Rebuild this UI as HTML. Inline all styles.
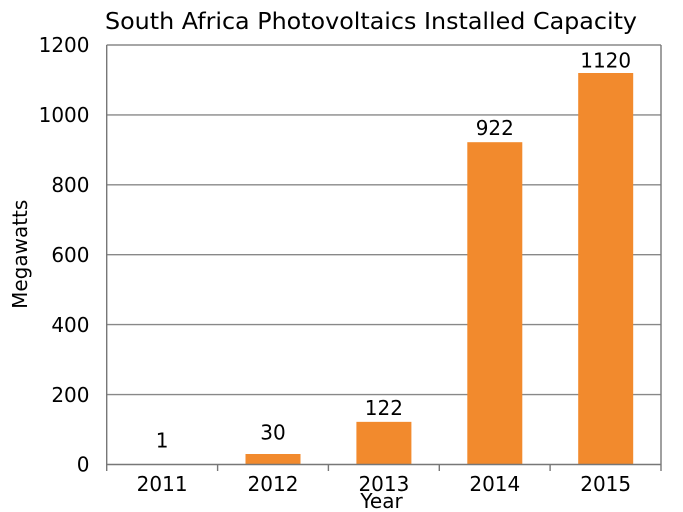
<!DOCTYPE html>
<html><head><meta charset="utf-8"><style>
html,body{margin:0;padding:0;background:#fff;}
svg{display:block;}
text{font-family:"DejaVu Sans","Liberation Sans",sans-serif;fill:#000;}
</style></head><body>
<svg width="683" height="512" viewBox="0 0 683 512" xmlns="http://www.w3.org/2000/svg">
<rect width="683" height="512" fill="#fff"/>
<text x="105" y="29" font-size="23.5" textLength="532" lengthAdjust="spacingAndGlyphs">South Africa Photovoltaics Installed Capacity</text>
<g stroke="#888" stroke-width="1.4" fill="none">
<line x1="106.7" y1="394.6" x2="661" y2="394.6"/>
<line x1="106.7" y1="324.6" x2="661" y2="324.6"/>
<line x1="106.7" y1="254.7" x2="661" y2="254.7"/>
<line x1="106.7" y1="184.8" x2="661" y2="184.8"/>
<line x1="106.7" y1="114.9" x2="661" y2="114.9"/>
<line x1="106.7" y1="45" x2="661" y2="45"/>
</g>
<g fill="#f28a2d">
<rect x="134.6" y="464.15" width="55" height="0.35"/>
<rect x="245.5" y="454" width="55" height="10.5"/>
<rect x="356.4" y="421.85" width="55" height="42.65"/>
<rect x="467.3" y="142.2" width="55" height="322.3"/>
<rect x="578.2" y="73" width="55" height="391.5"/>
</g>
<g stroke="#777" stroke-width="1.4" fill="none">
<line x1="106.7" y1="45" x2="106.7" y2="464.5"/>
<line x1="661" y1="45" x2="661" y2="464.5"/>
<line x1="106.7" y1="464.5" x2="661" y2="464.5"/>
<line x1="106.7" y1="464.5" x2="106.7" y2="471"/>
<line x1="217.6" y1="464.5" x2="217.6" y2="471"/>
<line x1="328.4" y1="464.5" x2="328.4" y2="471"/>
<line x1="439.3" y1="464.5" x2="439.3" y2="471"/>
<line x1="550.1" y1="464.5" x2="550.1" y2="471"/>
<line x1="661" y1="464.5" x2="661" y2="471"/>
</g>
<g font-size="20" text-anchor="end">
<text x="89.5" y="471.7">0</text>
<text x="89.5" y="401.8">200</text>
<text x="89.5" y="331.8">400</text>
<text x="89.5" y="261.9">600</text>
<text x="89.5" y="192">800</text>
<text x="89.5" y="122.1">1000</text>
<text x="89.5" y="52.2">1200</text>
</g>
<g font-size="20" text-anchor="middle">
<text x="162.1" y="491">2011</text>
<text x="273" y="491">2012</text>
<text x="383.9" y="491">2013</text>
<text x="494.8" y="491">2014</text>
<text x="605.7" y="491">2015</text>
<text x="162.1" y="447.5">1</text>
<text x="273" y="439.5">30</text>
<text x="383.9" y="415">122</text>
<text x="494.8" y="135">922</text>
<text x="605.7" y="67.5">1120</text>
</g>
<text x="381.5" y="508" font-size="20" text-anchor="middle">Year</text>
<text transform="translate(27,254.3) rotate(-90)" x="0" y="0" font-size="20" text-anchor="middle">Megawatts</text>
</svg>
</body></html>
